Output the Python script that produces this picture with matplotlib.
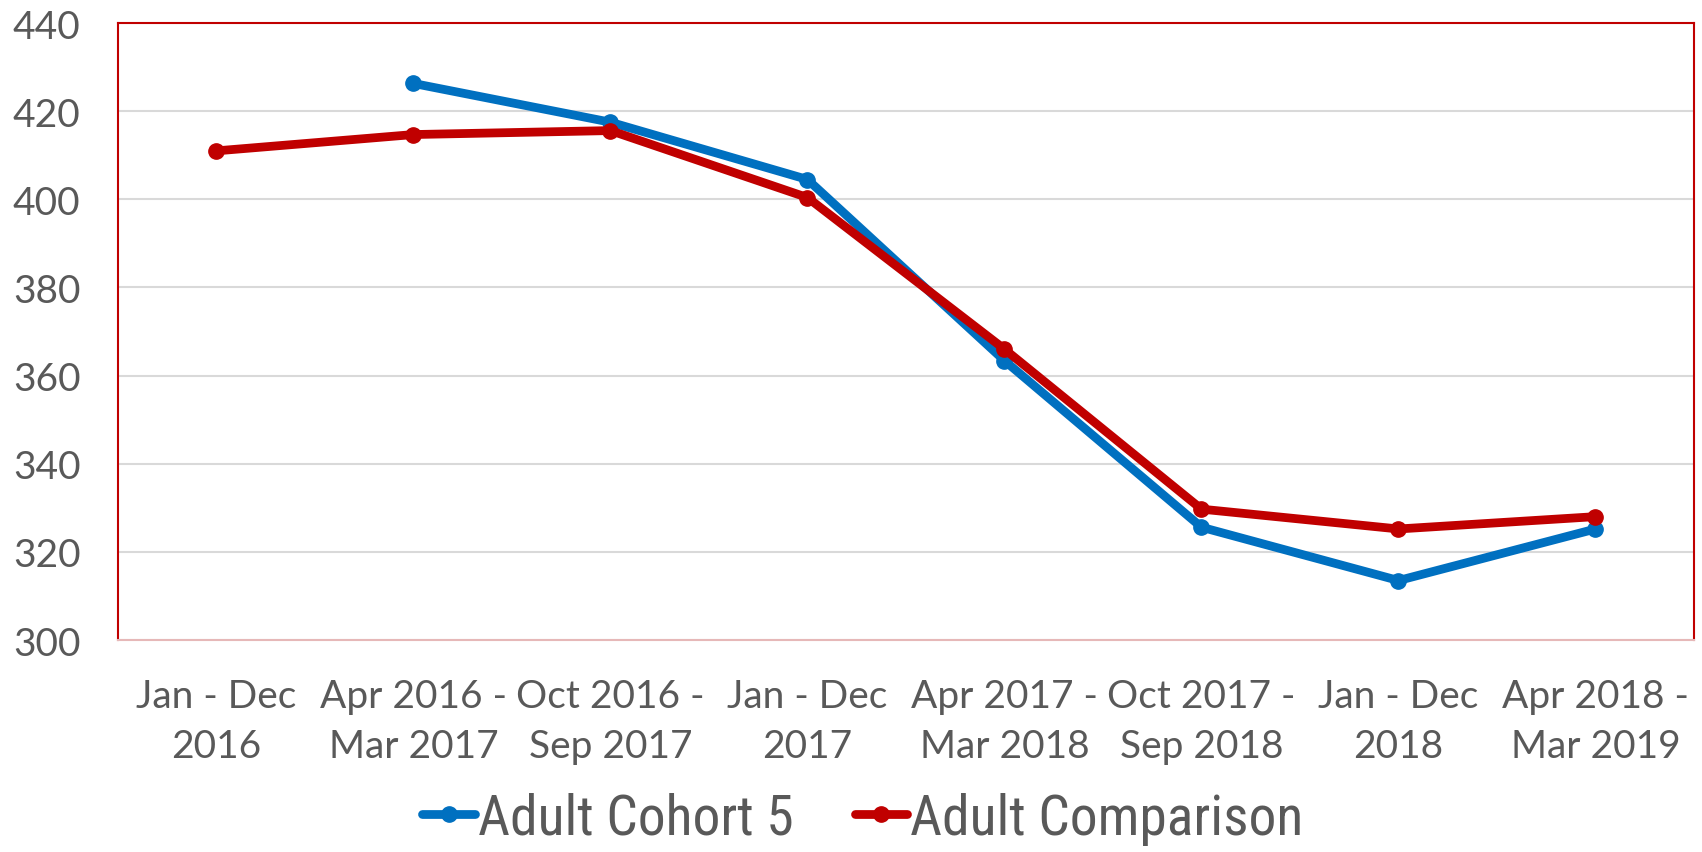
import numpy as np
import matplotlib
matplotlib.use('Agg')
import matplotlib.pyplot as plt
from matplotlib import font_manager

# Data
categories = ['Jan - Dec\n2016', 'Apr 2016 -\nMar 2017', 'Oct 2016 -\nSep 2017',
              'Jan - Dec\n2017', 'Apr 2017 -\nMar 2018', 'Oct 2017 -\nSep 2018',
              'Jan - Dec\n2018', 'Apr 2018 -\nMar 2019']
cohort5 = [np.nan, 426.3, 417.5, 404.5, 363.4, 325.6, 313.5, 325.2]
comparison = [411.0, 414.7, 415.6, 400.4, 366.0, 329.7, 325.2, 328.0]

BLUE = '#0070C0'
RED = '#C00000'
GREY_TXT = '#595959'

plt.rcParams['font.family'] = ['Lato', 'DejaVu Sans']

# pick a condensed face for the legend if one is installed
names = {f.name: f for f in font_manager.fontManager.ttflist}
leg_prop = {'family': ['Lato', 'DejaVu Sans'], 'size': 42}
for cand in ['Liberation Sans Narrow', 'Roboto Condensed', 'Open Sans Condensed', 'DejaVu Sans Condensed']:
    if cand in names:
        leg_prop = {'family': [cand, 'DejaVu Sans'], 'size': 40}
        break
else:
    cond = [f for f in font_manager.fontManager.ttflist
            if f.name == 'DejaVu Sans' and 'ondensed' in f.fname and f.weight in (400, 'normal')]
    if cond:
        leg_prop = {'family': ['DejaVu Sans'], 'stretch': 'condensed', 'size': 38}

fig = plt.figure(figsize=(17.02, 8.53), dpi=100)
ax = fig.add_axes([0.0693, 0.2485, 0.926, 0.7233])

x = np.arange(len(categories))
ax.plot(x, cohort5, color=BLUE, lw=6.3, marker='o', ms=11, label='Adult Cohort 5',
        solid_capstyle='round', zorder=3)
ax.plot(x, comparison, color=RED, lw=6.3, marker='o', ms=11, label='Adult Comparison',
        solid_capstyle='round', zorder=4)

ax.set_xlim(-0.5, len(categories) - 0.5)
ax.set_ylim(300, 440)
ax.set_yticks(np.arange(300, 441, 20))
ax.set_xticks(x)
ax.set_xticklabels(categories, fontsize=28, color=GREY_TXT, linespacing=1.5)
ax.tick_params(axis='y', labelsize=28, labelcolor=GREY_TXT, length=0, pad=27)
ax.tick_params(axis='x', length=0, pad=27)

ax.grid(axis='y', color='#D9D9D9', lw=1.5)
ax.set_axisbelow(True)
for s in ['left', 'top', 'right']:
    ax.spines[s].set_color(RED)
    ax.spines[s].set_linewidth(1.5)
ax.spines['bottom'].set_color('#E6B8B8')
ax.spines['bottom'].set_linewidth(1.5)

leg = fig.legend(loc='lower center', bbox_to_anchor=(0.507, -0.05), ncol=2, frameon=False,
                 prop=leg_prop, handlelength=0.95, handletextpad=0.05, columnspacing=1.1)
for t in leg.get_texts():
    t.set_color(GREY_TXT)

fig.savefig('out.png', dpi=100)
